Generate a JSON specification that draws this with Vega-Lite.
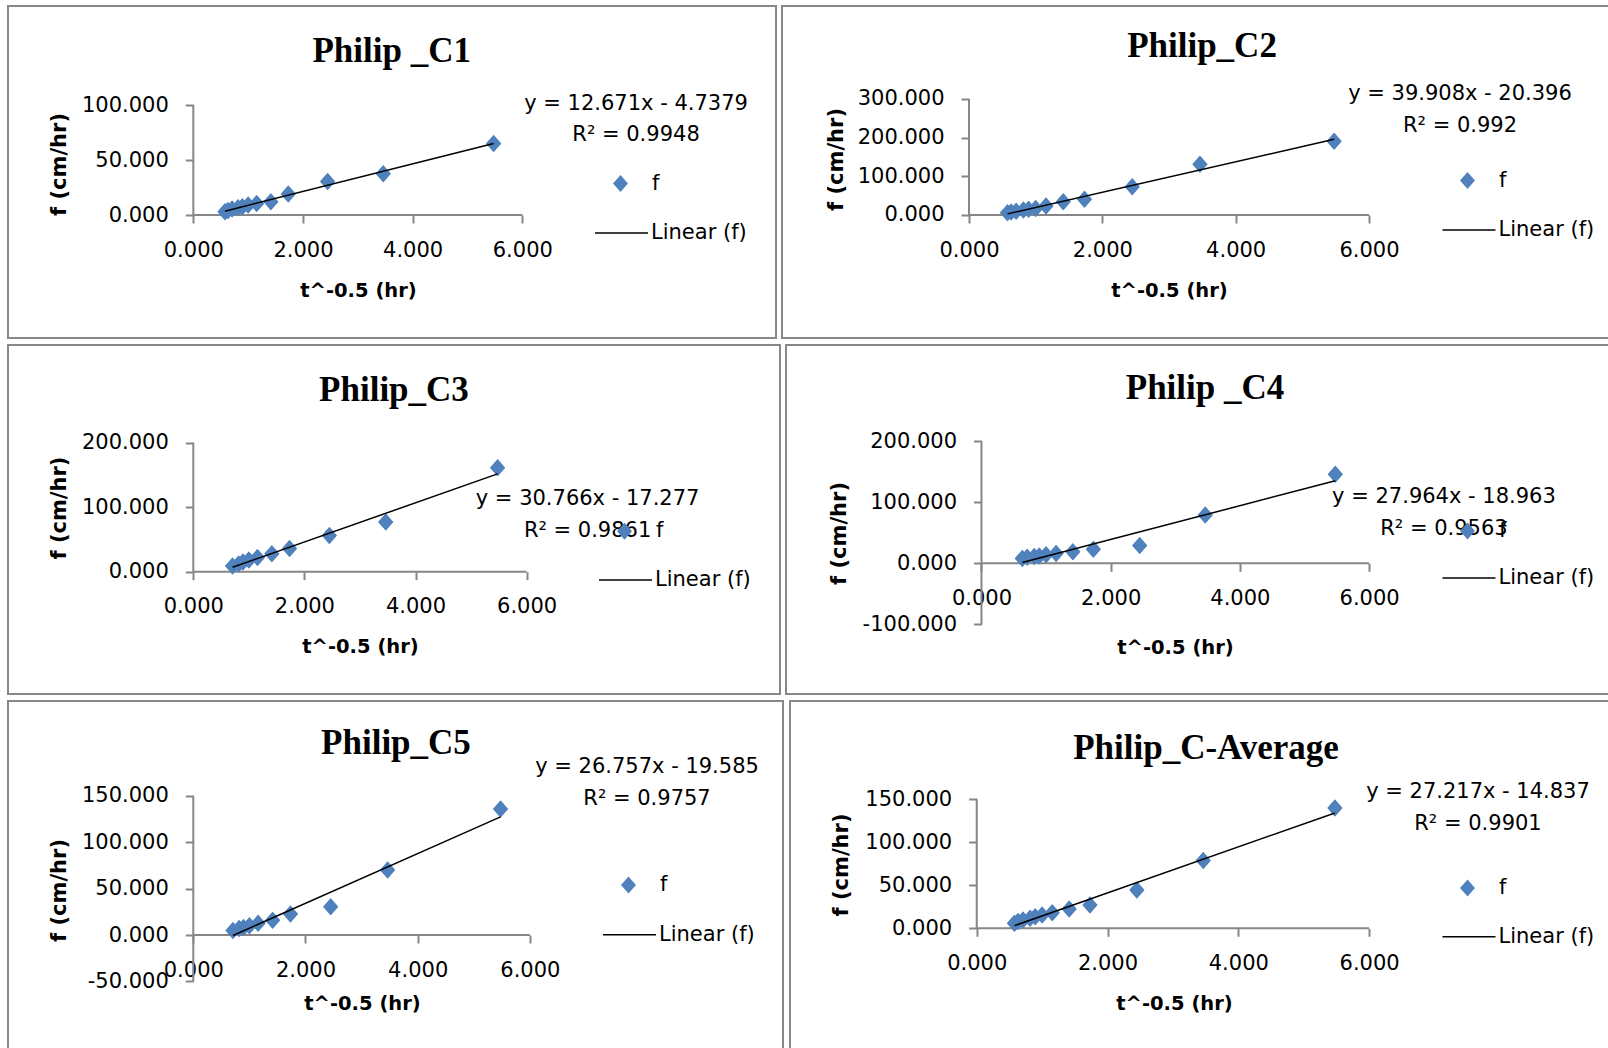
{
"$schema": "https://vega.github.io/schema/vega-lite/v6.json",
"padding": {"left": 7, "top": 5, "right": 0, "bottom": 0},
"background": "white",
"config": {
  "view": {"stroke": "#878787", "strokeWidth": 2},
  "axis": {"domain": false, "grid": false, "tickSize": 8, "tickWidth": 2, "tickColor": "#868686", "labelFont": "DejaVu Sans", "labelFontSize": 21, "labelColor": "black", "labelFlush": false, "labelOverlap": false, "labelBound": false, "titleFont": "DejaVu Sans", "titleFontWeight": "bold", "titleColor": "black"},
  "axisX": {"labelPadding": 16, "titleAngle": 0, "titleAlign": "center", "titleBaseline": "alphabetic", "titleFontSize": 19.5},
  "axisY": {"labelPadding": 17, "titleAngle": -90, "titleAlign": "center", "titleBaseline": "middle", "titleFontSize": 21},
  "legend": {"orient": "none", "labelFont": "DejaVu Sans", "labelFontSize": 21, "labelColor": "black", "padding": 0, "symbolOpacity": 1},
  "text": {"color": "black"}
},
"datasets": {
  "c1": [{"x":0.577,"f":3.0},{"x":0.632,"f":4.0},{"x":0.707,"f":5.5},{"x":0.816,"f":6.5},{"x":0.894,"f":7.5},{"x":1.0,"f":9.0},{"x":1.155,"f":10.5},{"x":1.414,"f":12.0},{"x":1.732,"f":19.0},{"x":2.449,"f":30.5},{"x":3.464,"f":37.5},{"x":5.477,"f":65.0}],
  "c2": [{"x":0.577,"f":6},{"x":0.632,"f":8},{"x":0.707,"f":10},{"x":0.816,"f":13},{"x":0.894,"f":15},{"x":1.0,"f":17},{"x":1.155,"f":23},{"x":1.414,"f":34.5},{"x":1.732,"f":40.5},{"x":2.449,"f":73},{"x":3.464,"f":131},{"x":5.477,"f":191}],
  "c3": [{"x":0.707,"f":9},{"x":0.816,"f":12},{"x":0.894,"f":15},{"x":1.0,"f":18},{"x":1.155,"f":22},{"x":1.414,"f":28},{"x":1.732,"f":36},{"x":2.449,"f":56},{"x":3.464,"f":77},{"x":5.477,"f":161}],
  "c4": [{"x":0.632,"f":8},{"x":0.707,"f":10},{"x":0.816,"f":11},{"x":0.894,"f":12},{"x":1.0,"f":14},{"x":1.155,"f":16},{"x":1.414,"f":19},{"x":1.732,"f":23},{"x":2.449,"f":29},{"x":3.464,"f":79},{"x":5.477,"f":145.6}],
  "c5": [{"x":0.707,"f":5},{"x":0.816,"f":7},{"x":0.894,"f":8},{"x":1.0,"f":10},{"x":1.155,"f":12.6},{"x":1.414,"f":16},{"x":1.732,"f":22.7},{"x":2.449,"f":30.6},{"x":3.464,"f":70},{"x":5.477,"f":135.6}],
  "c6": [{"x":0.577,"f":5.8},{"x":0.632,"f":7.8},{"x":0.707,"f":9.7},{"x":0.816,"f":11.6},{"x":0.894,"f":13.5},{"x":1.0,"f":15.5},{"x":1.155,"f":18},{"x":1.414,"f":22.5},{"x":1.732,"f":27},{"x":2.449,"f":44.6},{"x":3.464,"f":78.7},{"x":5.477,"f":140}]
},
"spacing": 5,
"resolve": {"scale": {"fill": "independent", "stroke": "independent"}},
"vconcat": [
{"hconcat": [
{"width": 768, "height": 332, "layer": [
 {"data":{"name":"c1"},"mark":{"type":"point","shape":"M-0.88,0L0,-1L0.88,0L0,1Z","filled":true,"size":289,"opacity":1,"strokeWidth":0},"encoding":{
   "x":{"field":"x","type":"quantitative","scale":{"domain":[-3.380,10.627],"nice":false,"zero":false},"axis":{"offset":-123,"values":[0,2,4,6],"labelExpr":"format(datum.value, '.3f')","title":"t^-0.5 (hr)","titleX":350,"titleY":81}},
   "y":{"field":"f","type":"quantitative","scale":{"domain":[-111.8,190.0],"nice":false,"zero":false},"axis":{"offset":-185.3,"values":[0,50,100],"labelExpr":"(datum.value < 0 ? '-' : '') + format(abs(datum.value), '.3f')","title":"f (cm/hr)","titleX":-133.8,"titleY":158}},
   "fill":{"datum":"f","type":"nominal","scale":{"range":["#4F81BD"]},"legend":{"title":null,"symbolType":"M-0.88,0L0,-1L0.88,0L0,1Z","symbolSize":289,"symbolStrokeWidth":0,"legendX":602,"legendY":167,"labelOffset":21}}}},
 {"data":{"values":[{}]},"mark":{"type":"rule","color":"#868686","strokeWidth":2},"encoding":{"x":{"datum":0,"type":"quantitative"},"y":{"datum":0,"type":"quantitative"},"y2":{"datum":100}}},
 {"data":{"values":[{}]},"mark":{"type":"rule","color":"#868686","strokeWidth":2},"encoding":{"x":{"datum":0,"type":"quantitative"},"x2":{"datum":6},"y":{"datum":0,"type":"quantitative"}}},
 {"data":{"name":"c1"},"mark":{"type":"point","shape":"M-0.88,0L0,-1L0.88,0L0,1Z","filled":true,"size":289,"opacity":1,"strokeWidth":0,"color":"#4F81BD"},"encoding":{"x":{"field":"x","type":"quantitative"},"y":{"field":"f","type":"quantitative"}}},
 {"data":{"name":"c1"},"transform":[{"regression":"f","on":"x"}],"mark":{"type":"line","strokeWidth":1.5},"encoding":{"x":{"field":"x","type":"quantitative"},"y":{"field":"f","type":"quantitative"},"stroke":{"datum":"Linear (f)","type":"nominal","scale":{"range":["black"]},"legend":{"title":null,"symbolType":"stroke","symbolSize":2809,"symbolStrokeWidth":1.5,"legendX":586,"legendY":199.6,"labelOffset":2}}}},
 {"data":{"values":[{}]},"mark":{"type":"text","text":"Philip _C1","font":"Liberation Serif","fontWeight":"bold","fontSize":35,"baseline":"alphabetic"},"encoding":{"x":{"datum":3.618,"type":"quantitative"},"y":{"datum":139.1,"type":"quantitative"}}},
 {"data":{"values":[{}]},"mark":{"type":"text","text":"y = 12.671x - 4.7379","font":"DejaVu Sans","fontSize":21,"baseline":"middle"},"encoding":{"x":{"datum":8.074,"type":"quantitative"},"y":{"datum":100.5,"type":"quantitative"}}},
 {"data":{"values":[{}]},"mark":{"type":"text","text":"R² = 0.9948","font":"DejaVu Sans","fontSize":21,"baseline":"middle"},"encoding":{"x":{"datum":8.074,"type":"quantitative"},"y":{"datum":72.5,"type":"quantitative"}}}
]},
{"width": 844, "height": 332, "layer": [
 {"data":{"name":"c2"},"mark":{"type":"point","shape":"M-0.88,0L0,-1L0.88,0L0,1Z","filled":true,"size":289,"opacity":1,"strokeWidth":0},"encoding":{
   "x":{"field":"x","type":"quantitative","scale":{"domain":[-2.805,9.855],"nice":false,"zero":false},"axis":{"offset":-123,"values":[0,2,4,6],"labelExpr":"format(datum.value, '.3f')","title":"t^-0.5 (hr)","titleX":387,"titleY":81}},
   "y":{"field":"f","type":"quantitative","scale":{"domain":[-318.1,540.5],"nice":false,"zero":false},"axis":{"offset":-187,"values":[0,100,200,300],"labelExpr":"(datum.value < 0 ? '-' : '') + format(abs(datum.value), '.3f')","title":"f (cm/hr)","titleX":-133,"titleY":153}},
   "fill":{"datum":"f","type":"nominal","scale":{"range":["#4F81BD"]},"legend":{"title":null,"symbolType":"M-0.88,0L0,-1L0.88,0L0,1Z","symbolSize":289,"symbolStrokeWidth":0,"legendX":675,"legendY":164,"labelOffset":21}}}},
 {"data":{"values":[{}]},"mark":{"type":"rule","color":"#868686","strokeWidth":2},"encoding":{"x":{"datum":0,"type":"quantitative"},"y":{"datum":0,"type":"quantitative"},"y2":{"datum":300}}},
 {"data":{"values":[{}]},"mark":{"type":"rule","color":"#868686","strokeWidth":2},"encoding":{"x":{"datum":0,"type":"quantitative"},"x2":{"datum":6},"y":{"datum":0,"type":"quantitative"}}},
 {"data":{"name":"c2"},"mark":{"type":"point","shape":"M-0.88,0L0,-1L0.88,0L0,1Z","filled":true,"size":289,"opacity":1,"strokeWidth":0,"color":"#4F81BD"},"encoding":{"x":{"field":"x","type":"quantitative"},"y":{"field":"f","type":"quantitative"}}},
 {"data":{"name":"c2"},"transform":[{"regression":"f","on":"x"}],"mark":{"type":"line","strokeWidth":1.5},"encoding":{"x":{"field":"x","type":"quantitative"},"y":{"field":"f","type":"quantitative"},"stroke":{"datum":"Linear (f)","type":"nominal","scale":{"range":["black"]},"legend":{"title":null,"symbolType":"stroke","symbolSize":2809,"symbolStrokeWidth":1.5,"legendX":659.5,"legendY":196.6,"labelOffset":2}}}},
 {"data":{"values":[{}]},"mark":{"type":"text","text":"Philip_C2","font":"Liberation Serif","fontWeight":"bold","fontSize":35,"baseline":"alphabetic"},"encoding":{"x":{"datum":3.495,"type":"quantitative"},"y":{"datum":408.6,"type":"quantitative"}}},
 {"data":{"values":[{}]},"mark":{"type":"text","text":"y = 39.908x - 20.396","font":"DejaVu Sans","fontSize":21,"baseline":"middle"},"encoding":{"x":{"datum":7.365,"type":"quantitative"},"y":{"datum":312.1,"type":"quantitative"}}},
 {"data":{"values":[{}]},"mark":{"type":"text","text":"R² = 0.992","font":"DejaVu Sans","fontSize":21,"baseline":"middle"},"encoding":{"x":{"datum":7.365,"type":"quantitative"},"y":{"datum":230.1,"type":"quantitative"}}}
]}
], "spacing": 4, "resolve": {"scale": {"fill": "independent", "stroke": "independent"}}},
{"hconcat": [
{"width": 772, "height": 349, "layer": [
 {"data":{"name":"c3"},"mark":{"type":"point","shape":"M-0.88,0L0,-1L0.88,0L0,1Z","filled":true,"size":289,"opacity":1,"strokeWidth":0},"encoding":{
   "x":{"field":"x","type":"quantitative","scale":{"domain":[-3.335,10.560],"nice":false,"zero":false},"axis":{"offset":-122.3,"values":[0,2,4,6],"labelExpr":"format(datum.value, '.3f')","title":"t^-0.5 (hr)","titleX":352,"titleY":81}},
   "y":{"field":"f","type":"quantitative","scale":{"domain":[-189.6,351.5],"nice":false,"zero":false},"axis":{"offset":-185.3,"values":[0,100,200],"labelExpr":"(datum.value < 0 ? '-' : '') + format(abs(datum.value), '.3f')","title":"f (cm/hr)","titleX":-133.8,"titleY":162.6}},
   "fill":{"datum":"f","type":"nominal","scale":{"range":["#4F81BD"]},"legend":{"title":null,"symbolType":"M-0.88,0L0,-1L0.88,0L0,1Z","symbolSize":289,"symbolStrokeWidth":0,"legendX":606,"legendY":175.7,"labelOffset":21}}}},
 {"data":{"values":[{}]},"mark":{"type":"rule","color":"#868686","strokeWidth":2},"encoding":{"x":{"datum":0,"type":"quantitative"},"y":{"datum":0,"type":"quantitative"},"y2":{"datum":200}}},
 {"data":{"values":[{}]},"mark":{"type":"rule","color":"#868686","strokeWidth":2},"encoding":{"x":{"datum":0,"type":"quantitative"},"x2":{"datum":6},"y":{"datum":0,"type":"quantitative"}}},
 {"data":{"name":"c3"},"mark":{"type":"point","shape":"M-0.88,0L0,-1L0.88,0L0,1Z","filled":true,"size":289,"opacity":1,"strokeWidth":0,"color":"#4F81BD"},"encoding":{"x":{"field":"x","type":"quantitative"},"y":{"field":"f","type":"quantitative"}}},
 {"data":{"name":"c3"},"transform":[{"regression":"f","on":"x"}],"mark":{"type":"line","strokeWidth":1.5},"encoding":{"x":{"field":"x","type":"quantitative"},"y":{"field":"f","type":"quantitative"},"stroke":{"datum":"Linear (f)","type":"nominal","scale":{"range":["black"]},"legend":{"title":null,"symbolType":"stroke","symbolSize":2809,"symbolStrokeWidth":1.5,"legendX":590,"legendY":207.5,"labelOffset":2}}}},
 {"data":{"values":[{}]},"mark":{"type":"text","text":"Philip_C3","font":"Liberation Serif","fontWeight":"bold","fontSize":35,"baseline":"alphabetic"},"encoding":{"x":{"datum":3.612,"type":"quantitative"},"y":{"datum":264.7,"type":"quantitative"}}},
 {"data":{"values":[{}]},"mark":{"type":"text","text":"y = 30.766x - 17.277","font":"DejaVu Sans","fontSize":21,"baseline":"middle"},"encoding":{"x":{"datum":7.097,"type":"quantitative"},"y":{"datum":112.1,"type":"quantitative"}}},
 {"data":{"values":[{}]},"mark":{"type":"text","text":"R² = 0.9861","font":"DejaVu Sans","fontSize":21,"baseline":"middle"},"encoding":{"x":{"datum":7.097,"type":"quantitative"},"y":{"datum":62.8,"type":"quantitative"}}}
]},
{"width": 840, "height": 349, "layer": [
 {"data":{"name":"c4"},"mark":{"type":"point","shape":"M-0.88,0L0,-1L0.88,0L0,1Z","filled":true,"size":289,"opacity":1,"strokeWidth":0},"encoding":{
   "x":{"field":"x","type":"quantitative","scale":{"domain":[-3.026,9.977],"nice":false,"zero":false},"axis":{"offset":-130.7,"values":[0,2,4,6],"labelExpr":"format(datum.value, '.3f')","title":"t^-0.5 (hr)","titleX":389,"titleY":90}},
   "y":{"field":"f","type":"quantitative","scale":{"domain":[-213.9,357.3],"nice":false,"zero":false},"axis":{"offset":-195.5,"values":[-100,0,100,200],"labelExpr":"(datum.value < 0 ? '-' : '') + format(abs(datum.value), '.3f')","title":"f (cm/hr)","titleX":-142.5,"titleY":188}},
   "fill":{"datum":"f","type":"nominal","scale":{"range":["#4F81BD"]},"legend":{"title":null,"symbolType":"M-0.88,0L0,-1L0.88,0L0,1Z","symbolSize":289,"symbolStrokeWidth":0,"legendX":671,"legendY":175.5,"labelOffset":21}}}},
 {"data":{"values":[{}]},"mark":{"type":"rule","color":"#868686","strokeWidth":2},"encoding":{"x":{"datum":0,"type":"quantitative"},"y":{"datum":-100,"type":"quantitative"},"y2":{"datum":200}}},
 {"data":{"values":[{}]},"mark":{"type":"rule","color":"#868686","strokeWidth":2},"encoding":{"x":{"datum":0,"type":"quantitative"},"x2":{"datum":6},"y":{"datum":0,"type":"quantitative"}}},
 {"data":{"name":"c4"},"mark":{"type":"point","shape":"M-0.88,0L0,-1L0.88,0L0,1Z","filled":true,"size":289,"opacity":1,"strokeWidth":0,"color":"#4F81BD"},"encoding":{"x":{"field":"x","type":"quantitative"},"y":{"field":"f","type":"quantitative"}}},
 {"data":{"name":"c4"},"transform":[{"regression":"f","on":"x"}],"mark":{"type":"line","strokeWidth":1.5},"encoding":{"x":{"field":"x","type":"quantitative"},"y":{"field":"f","type":"quantitative"},"stroke":{"datum":"Linear (f)","type":"nominal","scale":{"range":["black"]},"legend":{"title":null,"symbolType":"stroke","symbolSize":2809,"symbolStrokeWidth":1.5,"legendX":655.5,"legendY":205.4,"labelOffset":2}}}},
 {"data":{"values":[{}]},"mark":{"type":"text","text":"Philip _C4","font":"Liberation Serif","fontWeight":"bold","fontSize":35,"baseline":"alphabetic"},"encoding":{"x":{"datum":3.460,"type":"quantitative"},"y":{"datum":269.5,"type":"quantitative"}}},
 {"data":{"values":[{}]},"mark":{"type":"text","text":"y = 27.964x - 18.963","font":"DejaVu Sans","fontSize":21,"baseline":"middle"},"encoding":{"x":{"datum":7.159,"type":"quantitative"},"y":{"datum":108.0,"type":"quantitative"}}},
 {"data":{"values":[{}]},"mark":{"type":"text","text":"R² = 0.9563","font":"DejaVu Sans","fontSize":21,"baseline":"middle"},"encoding":{"x":{"datum":7.159,"type":"quantitative"},"y":{"datum":56.1,"type":"quantitative"}}}
]}
], "spacing": 4, "resolve": {"scale": {"fill": "independent", "stroke": "independent"}}},
{"hconcat": [
{"width": 775, "height": 365, "layer": [
 {"data":{"name":"c5"},"mark":{"type":"point","shape":"M-0.88,0L0,-1L0.88,0L0,1Z","filled":true,"size":289,"opacity":1,"strokeWidth":0},"encoding":{
   "x":{"field":"x","type":"quantitative","scale":{"domain":[-3.303,10.512],"nice":false,"zero":false},"axis":{"offset":-131,"values":[0,2,4,6],"labelExpr":"format(datum.value, '.3f')","title":"t^-0.5 (hr)","titleX":354,"titleY":74}},
   "y":{"field":"f","type":"quantitative","scale":{"domain":[-141.0,252.0],"nice":false,"zero":false},"axis":{"offset":-185.3,"values":[-50,0,50,100,150],"labelExpr":"(datum.value < 0 ? '-' : '') + format(abs(datum.value), '.3f')","title":"f (cm/hr)","titleX":-133.8,"titleY":189}},
   "fill":{"datum":"f","type":"nominal","scale":{"range":["#4F81BD"]},"legend":{"title":null,"symbolType":"M-0.88,0L0,-1L0.88,0L0,1Z","symbolSize":289,"symbolStrokeWidth":0,"legendX":610,"legendY":173.5,"labelOffset":21}}}},
 {"data":{"values":[{}]},"mark":{"type":"rule","color":"#868686","strokeWidth":2},"encoding":{"x":{"datum":0,"type":"quantitative"},"y":{"datum":-50,"type":"quantitative"},"y2":{"datum":150}}},
 {"data":{"values":[{}]},"mark":{"type":"rule","color":"#868686","strokeWidth":2},"encoding":{"x":{"datum":0,"type":"quantitative"},"x2":{"datum":6},"y":{"datum":0,"type":"quantitative"}}},
 {"data":{"name":"c5"},"mark":{"type":"point","shape":"M-0.88,0L0,-1L0.88,0L0,1Z","filled":true,"size":289,"opacity":1,"strokeWidth":0,"color":"#4F81BD"},"encoding":{"x":{"field":"x","type":"quantitative"},"y":{"field":"f","type":"quantitative"}}},
 {"data":{"name":"c5"},"transform":[{"regression":"f","on":"x"}],"mark":{"type":"line","strokeWidth":1.5},"encoding":{"x":{"field":"x","type":"quantitative"},"y":{"field":"f","type":"quantitative"},"stroke":{"datum":"Linear (f)","type":"nominal","scale":{"range":["black"]},"legend":{"title":null,"symbolType":"stroke","symbolSize":2809,"symbolStrokeWidth":1.5,"legendX":594,"legendY":206.2,"labelOffset":2}}}},
 {"data":{"values":[{}]},"mark":{"type":"text","text":"Philip_C5","font":"Liberation Serif","fontWeight":"bold","fontSize":35,"baseline":"alphabetic"},"encoding":{"x":{"datum":3.613,"type":"quantitative"},"y":{"datum":195.4,"type":"quantitative"}}},
 {"data":{"values":[{}]},"mark":{"type":"text","text":"y = 26.757x - 19.585","font":"DejaVu Sans","fontSize":21,"baseline":"middle"},"encoding":{"x":{"datum":8.088,"type":"quantitative"},"y":{"datum":180.9,"type":"quantitative"}}},
 {"data":{"values":[{}]},"mark":{"type":"text","text":"R² = 0.9757","font":"DejaVu Sans","fontSize":21,"baseline":"middle"},"encoding":{"x":{"datum":8.088,"type":"quantitative"},"y":{"datum":146.6,"type":"quantitative"}}}
]},
{"width": 836, "height": 365, "layer": [
 {"data":{"name":"c6"},"mark":{"type":"point","shape":"M-0.88,0L0,-1L0.88,0L0,1Z","filled":true,"size":289,"opacity":1,"strokeWidth":0},"encoding":{
   "x":{"field":"x","type":"quantitative","scale":{"domain":[-2.855,9.928],"nice":false,"zero":false},"axis":{"offset":-137.7,"values":[0,2,4,6],"labelExpr":"format(datum.value, '.3f')","title":"t^-0.5 (hr)","titleX":384,"titleY":81}},
   "y":{"field":"f","type":"quantitative","scale":{"domain":[-160.2,264.3],"nice":false,"zero":false},"axis":{"offset":-186.7,"values":[0,50,100,150],"labelExpr":"(datum.value < 0 ? '-' : '') + format(abs(datum.value), '.3f')","title":"f (cm/hr)","titleX":-135.7,"titleY":163.5}},
   "fill":{"datum":"f","type":"nominal","scale":{"range":["#4F81BD"]},"legend":{"title":null,"symbolType":"M-0.88,0L0,-1L0.88,0L0,1Z","symbolSize":289,"symbolStrokeWidth":0,"legendX":667,"legendY":176.5,"labelOffset":21}}}},
 {"data":{"values":[{}]},"mark":{"type":"rule","color":"#868686","strokeWidth":2},"encoding":{"x":{"datum":0,"type":"quantitative"},"y":{"datum":0,"type":"quantitative"},"y2":{"datum":150}}},
 {"data":{"values":[{}]},"mark":{"type":"rule","color":"#868686","strokeWidth":2},"encoding":{"x":{"datum":0,"type":"quantitative"},"x2":{"datum":6},"y":{"datum":0,"type":"quantitative"}}},
 {"data":{"name":"c6"},"mark":{"type":"point","shape":"M-0.88,0L0,-1L0.88,0L0,1Z","filled":true,"size":289,"opacity":1,"strokeWidth":0,"color":"#4F81BD"},"encoding":{"x":{"field":"x","type":"quantitative"},"y":{"field":"f","type":"quantitative"}}},
 {"data":{"name":"c6"},"transform":[{"regression":"f","on":"x"}],"mark":{"type":"line","strokeWidth":1.5},"encoding":{"x":{"field":"x","type":"quantitative"},"y":{"field":"f","type":"quantitative"},"stroke":{"datum":"Linear (f)","type":"nominal","scale":{"range":["black"]},"legend":{"title":null,"symbolType":"stroke","symbolSize":2809,"symbolStrokeWidth":1.5,"legendX":651.5,"legendY":208.3,"labelOffset":2}}}},
 {"data":{"values":[{}]},"mark":{"type":"text","text":"Philip_C-Average","font":"Liberation Serif","fontWeight":"bold","fontSize":35,"baseline":"alphabetic"},"encoding":{"x":{"datum":3.506,"type":"quantitative"},"y":{"datum":197.3,"type":"quantitative"}}},
 {"data":{"values":[{}]},"mark":{"type":"text","text":"y = 27.217x - 14.837","font":"DejaVu Sans","fontSize":21,"baseline":"middle"},"encoding":{"x":{"datum":7.665,"type":"quantitative"},"y":{"datum":159.0,"type":"quantitative"}}},
 {"data":{"values":[{}]},"mark":{"type":"text","text":"R² = 0.9901","font":"DejaVu Sans","fontSize":21,"baseline":"middle"},"encoding":{"x":{"datum":7.665,"type":"quantitative"},"y":{"datum":120.7,"type":"quantitative"}}}
]}
], "spacing": 5, "resolve": {"scale": {"fill": "independent", "stroke": "independent"}}}
]
}
